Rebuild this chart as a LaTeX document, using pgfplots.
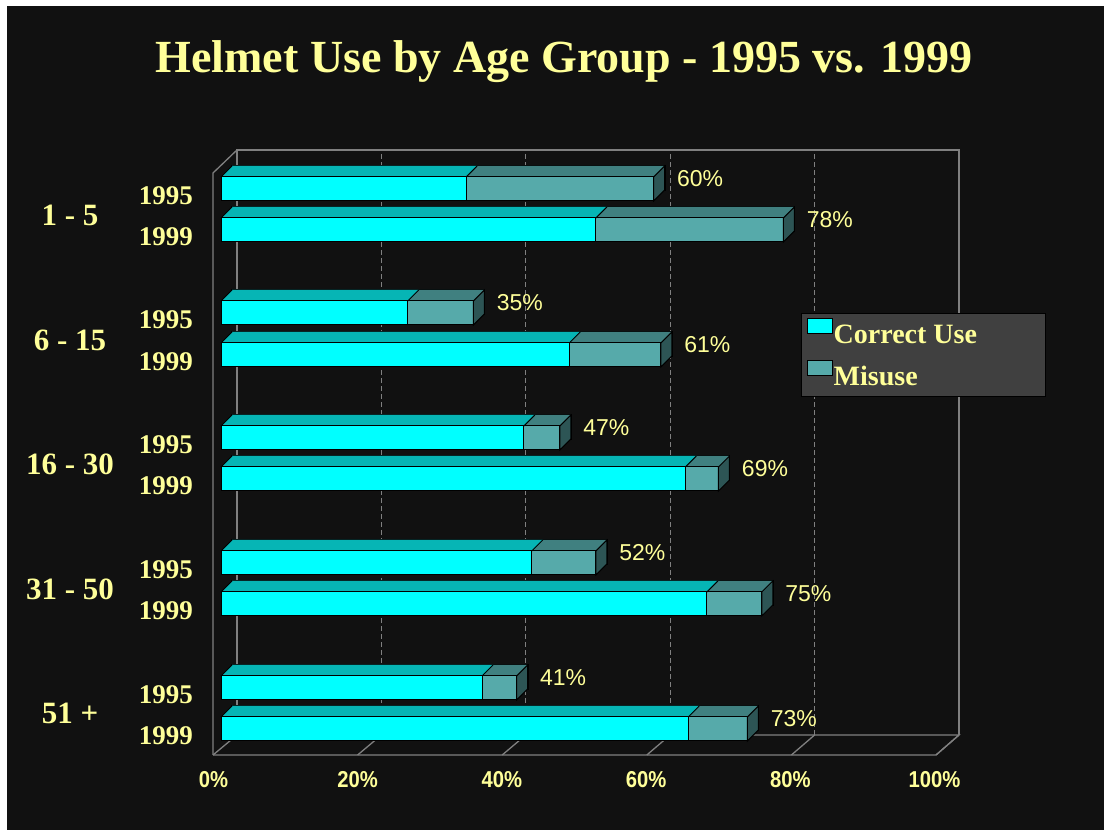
\documentclass[border=0pt]{standalone}
\usepackage{pgfplots}
\pgfplotsset{compat=1.18}
\usepackage{pgfplotstable}
\usepackage{fontspec}
\setmainfont{Liberation Serif}
\newfontfamily\arialfont{Liberation Sans}
\definecolor{bg}{RGB}{17,17,17}
\definecolor{paleyellow}{RGB}{255,255,153}
\definecolor{corfront}{RGB}{0,255,255}
\definecolor{cortop}{RGB}{0,188,188}
\definecolor{misfront}{RGB}{86,170,170}
\definecolor{mistop}{RGB}{64,128,128}
\definecolor{sidecol}{RGB}{45,85,85}
\definecolor{wallgray}{RGB}{128,128,128}
\definecolor{legendgray}{RGB}{64,64,64}

\pgfdeclareplotmark{sideface}{%
  \pgfpathmoveto{\pgfpoint{0pt}{-12pt}}%
  \pgfpathlineto{\pgfpoint{11pt}{-1pt}}%
  \pgfpathlineto{\pgfpoint{11pt}{23pt}}%
  \pgfpathlineto{\pgfpoint{0pt}{12pt}}%
  \pgfpathclose
  \pgfusepathqfillstroke}
\pgfdeclareplotmark{diag}{%
  \pgfpathmoveto{\pgfpoint{0pt}{12pt}}%
  \pgfpathlineto{\pgfpoint{11pt}{23pt}}%
  \pgfusepathqstroke}

% y = bar centre position, correct = correct use (%), total = correct use + misuse (%)
\pgfplotstableread{
y   correct total
641 34.0    60
600 52.0    78
517 25.9    35
475 48.3    61
392 42.0    47
351 64.4    69
267 43.1    52
226 67.4    75
142 36.2    41
101 64.8    73
}\data

\begin{document}
\begin{tikzpicture}
\fill[white] (0,0) rectangle (1104pt,830pt);
\fill[bg] (7pt,0pt) rectangle (1104pt,824pt);
\begin{scope}[draw=wallgray, line width=1.3pt]
  \draw (237pt,95pt) -- (237pt,680pt) -- (959pt,680pt) -- (959pt,95pt);
  \draw (213pt,75pt) -- (213pt,657pt) -- (237pt,680pt);
  \draw (213pt,75pt) -- (936pt,75pt) -- (959pt,95pt) -- (237pt,95pt);
  \foreach \k in {0,...,5} \draw (213pt+144.6pt*\k,75pt) -- (237pt+144.4pt*\k,95pt);
  \foreach \k in {1,...,4} \draw[dash pattern=on 5pt off 3pt] (237pt+144.4pt*\k,95pt) -- (237pt+144.4pt*\k,680pt);
\end{scope}
\begin{axis}[
  at={(221pt,75pt)}, anchor=south west,
  scale only axis, width=721pt, height=605pt,
  xmin=0, xmax=100, ymin=75, ymax=680,
  clip=false,
  axis line style={draw=none}, major tick length=0pt, tick style={draw=none},
  /pgf/number format/assume math mode=true,
  xtick={0,20,40,60,80,100},
  xticklabel={\scalebox{0.88}[1]{\pgfmathprintnumber{\tick}\%}},
  xticklabel style={anchor=center, yshift=-25pt, xshift=-7.5pt,
    font=\arialfont\bfseries\fontsize{23}{25}\selectfont, text=paleyellow},
  ytick={101,142,226,267,351,392,475,517,600,641},
  yticklabels={1999,1995,1999,1995,1999,1995,1999,1995,1999,1995},
  yticklabel style={anchor=east, inner sep=0pt, xshift=-28pt, yshift=-7pt,
    font=\bfseries\fontsize{27}{29}\selectfont, text=paleyellow},
  bar width=24,
  legend image code/.code={\draw[#1, draw=black, line width=1pt] (0pt,3pt) rectangle (25pt,18pt);},
  legend cell align=left,
  legend style={at={(0.8044,0.7306)}, anchor=north west, fill=legendgray, draw=black,
    line width=1.5pt, font=\bfseries\fontsize{28}{30}\selectfont, text=paleyellow,
    inner xsep=5pt, inner ysep=4pt, row sep=10pt,
    nodes={inner sep=1pt, text height=20pt, text depth=6pt},
    /tikz/every even column/.append style={column sep=3pt}},
]
% back outline of top faces
\addplot[xbar, bar shift=0pt, fill=mistop, draw=black, line width=2pt, forget plot, xshift=11pt, yshift=11pt] table[x=total, y=y]{\data};
% extruded top faces
\pgfplotsinvokeforeach{11,10,9,8,7,6,5,4,3,2,1}{
  \addplot[xbar, bar shift=0pt, fill=mistop, draw=none, forget plot, xshift=#1pt, yshift=#1pt] table[x=total, y=y]{\data};
  \addplot[xbar, bar shift=0pt, fill=cortop, draw=none, forget plot, xshift=#1pt, yshift=#1pt] table[x=correct, y=y]{\data};
}
% right side faces with total labels
\addplot[only marks, mark=sideface, mark options={fill=sidecol, draw=black, line width=1pt}, forget plot,
  point meta=explicit,
  nodes near coords={\pgfmathprintnumber[fixed,precision=0]{\pgfplotspointmeta}\%},
  nodes near coords align=horizontal,
  every node near coord/.append style={anchor=west, inner sep=0pt, xshift=23pt, yshift=10.5pt,
    font=\arialfont\fontsize{23}{25}\selectfont, text=paleyellow}]
  table[x=total, y=y, meta=total]{\data};
% diagonal edges
\addplot[only marks, mark=diag, mark options={draw=black, line width=1pt}, forget plot] table[x expr=0, y=y]{\data};
\addplot[only marks, mark=diag, mark options={draw=black, line width=1pt}, forget plot] table[x=correct, y=y]{\data};
% front faces
\addplot[xbar, bar shift=0pt, fill=misfront, draw=black, line width=1pt, forget plot] table[x=total, y=y]{\data};
\addplot[xbar, bar shift=0pt, fill=corfront, draw=black, line width=1pt, forget plot] table[x=correct, y=y]{\data};
\addlegendimage{fill=corfront}
\addlegendentry{\makebox[206pt][l]{Correct Use}}
\addlegendimage{fill=misfront}
\addlegendentry{\makebox[206pt][l]{Misuse}}
\end{axis}
\node[anchor=base, text=paleyellow, font=\bfseries\fontsize{46}{50}\selectfont] at (564pt,757pt) {Helmet Use by Age Group - 1995 vs. 1999};
\begin{scope}[every node/.style={anchor=center, inner sep=0pt, text=paleyellow, font=\bfseries\fontsize{31}{33}\selectfont}]
  \node at (70pt,615pt) {1 - 5};
  \node at (70pt,490pt) {6 - 15};
  \node at (70pt,366pt) {16 - 30};
  \node at (70pt,241pt) {31 - 50};
  \node at (70pt,117pt) {51 +};
\end{scope}
\pgfresetboundingbox
\useasboundingbox (0,0) rectangle (1104pt,830pt);
\end{tikzpicture}
\end{document}
